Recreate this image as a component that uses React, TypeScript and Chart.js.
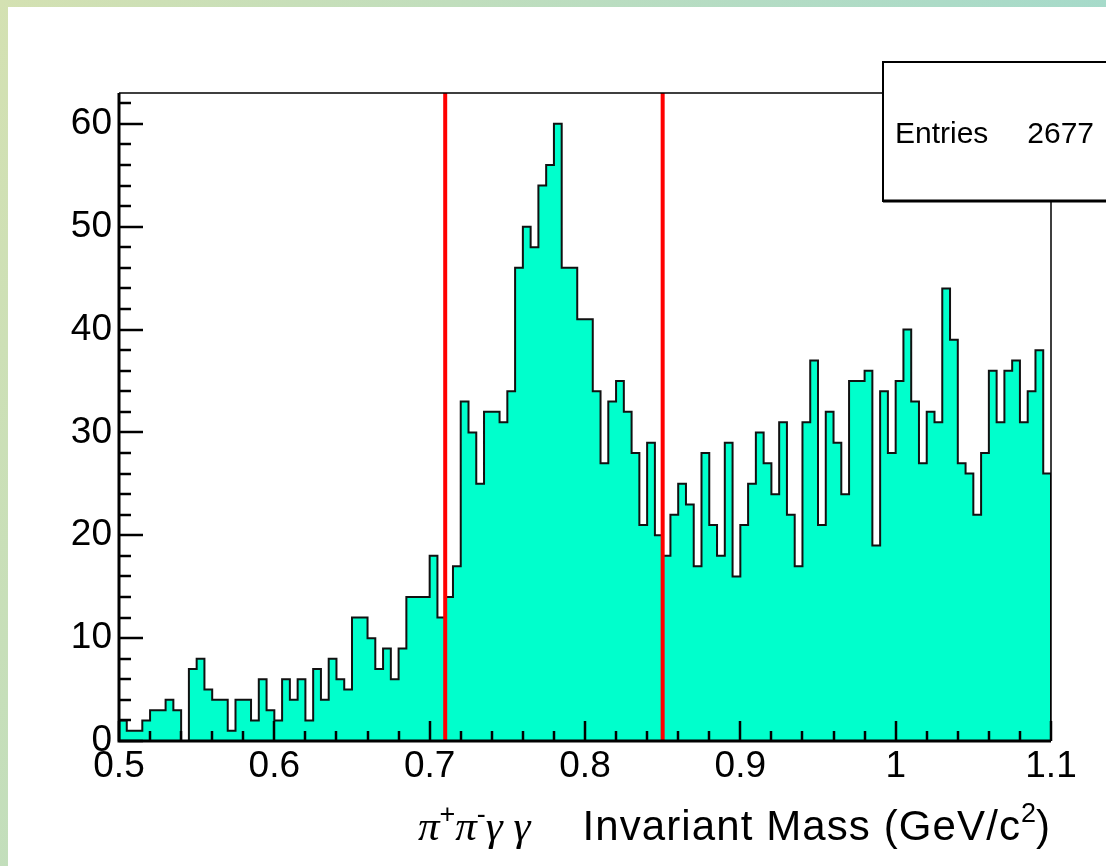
import React, { useEffect, useRef } from "react";
import { Chart, registerables } from "chart.js";

Chart.register(...registerables);

// ---- data ----
const BIN_LOW = 0.5;
const BIN_WIDTH = 0.005;
const counts = [
  2, 1, 1, 2, 3, 3, 4, 3, 0, 7,
  8, 5, 4, 4, 1, 4, 4, 2, 6, 3,
  2, 6, 4, 6, 2, 7, 4, 8, 6, 5,
  12, 12, 10, 7, 9, 6, 9, 14, 14, 14,
  18, 12, 14, 17, 33, 30, 25, 32, 32, 31,
  34, 46, 50, 48, 54, 56, 60, 46, 46, 41,
  41, 34, 27, 33, 35, 32, 28, 21, 29, 20,
  18, 22, 25, 23, 17, 28, 21, 18, 29, 16,
  21, 25, 30, 27, 24, 31, 22, 17, 31, 37,
  21, 32, 29, 24, 35, 35, 36, 19, 34, 28,
  35, 40, 33, 27, 32, 31, 44, 39, 27, 26,
  22, 28, 36, 31, 36, 37, 31, 34, 38, 26,
];
const cutLines = [0.71, 0.85];
const X_MIN = 0.5;
const X_MAX = 1.1;
const Y_MIN = 0;
const Y_MAX = 63;
const xTickValues = [0.5, 0.6, 0.7, 0.8, 0.9, 1.0, 1.1];
const xTickLabels = ["0.5", "0.6", "0.7", "0.8", "0.9", "1", "1.1"];
const yTickValues = [0, 10, 20, 30, 40, 50, 60];
const yTickLabels = ["0", "10", "20", "30", "40", "50", "60"];
const xMinorStep = 0.02;
const yMinorStep = 2;
const statsLabel = "Entries";
const statsValue = "2677";

const SANS = '"Liberation Sans", Arial, Helvetica, sans-serif';
const SERIF = '"Liberation Serif", "Times New Roman", serif';

// histogram outline points (left bin edges, stepped)
const histPoints: { x: number; y: number }[] = [{ x: BIN_LOW, y: 0 }];
counts.forEach((c, i) => histPoints.push({ x: BIN_LOW + i * BIN_WIDTH, y: c }));
histPoints.push({ x: BIN_LOW + counts.length * BIN_WIDTH, y: counts[counts.length - 1] });
histPoints.push({ x: BIN_LOW + counts.length * BIN_WIDTH, y: 0 });

type Piece = { t: string; f: string; dy: number; ls?: string };

function drawPieces(ctx: any, pieces: Piece[], startX: number, base: number) {
  let cx = startX;
  pieces.forEach((p) => {
    ctx.font = p.f;
    ctx.letterSpacing = p.ls || "0px";
    ctx.fillText(p.t, cx, base + p.dy);
    cx += ctx.measureText(p.t).width;
  });
  ctx.letterSpacing = "0px";
}
function measurePieces(ctx: any, pieces: Piece[]) {
  let w = 0;
  pieces.forEach((p) => {
    ctx.font = p.f;
    ctx.letterSpacing = p.ls || "0px";
    w += ctx.measureText(p.t).width;
  });
  ctx.letterSpacing = "0px";
  return w;
}

const decorPlugin = {
  id: "rootDecor",
  afterDatasetsDraw(chart: any) {
    const { ctx, chartArea: a, scales } = chart;
    const x = scales.x;
    const y = scales.y;
    ctx.save();
    ctx.strokeStyle = "#000";
    ctx.lineCap = "butt";
    ctx.lineWidth = 2.5;
    const nx = Math.round((X_MAX - X_MIN) / xMinorStep);
    for (let k = 0; k <= nx; k++) {
      const v = X_MIN + k * xMinorStep;
      const px = Math.round(x.getPixelForValue(v));
      const len = k % 5 === 0 ? 20 : 10;
      ctx.beginPath();
      ctx.moveTo(px, a.bottom);
      ctx.lineTo(px, a.bottom - len);
      ctx.stroke();
    }
    const ny = Math.floor((Y_MAX - Y_MIN) / yMinorStep);
    for (let k = 0; k <= ny; k++) {
      const v = Y_MIN + k * yMinorStep;
      const py = Math.round(y.getPixelForValue(v));
      const len = k % 5 === 0 ? 24 : 12;
      ctx.beginPath();
      ctx.moveTo(a.left, py);
      ctx.lineTo(a.left + len, py);
      ctx.stroke();
    }
    ctx.lineWidth = 1.5;
    ctx.beginPath();
    ctx.moveTo(a.left, a.top);
    ctx.lineTo(a.right, a.top);
    ctx.lineTo(a.right, a.bottom);
    ctx.stroke();
    ctx.lineWidth = 3;
    ctx.beginPath();
    ctx.moveTo(a.left, a.top);
    ctx.lineTo(a.left, a.bottom);
    ctx.lineTo(a.right, a.bottom);
    ctx.stroke();
    ctx.restore();
  },
  afterDraw(chart: any) {
    const { ctx, chartArea: a } = chart;
    ctx.save();
    // stats box
    const bx = 883, by = 62, bw = 240, bh = 139;
    ctx.fillStyle = "#fff";
    ctx.fillRect(bx, by, bw, bh);
    ctx.strokeStyle = "#000";
    ctx.lineWidth = 2;
    ctx.strokeRect(bx, by, bw, bh);
    ctx.lineWidth = 3;
    ctx.beginPath();
    ctx.moveTo(bx, by + bh);
    ctx.lineTo(bx + bw, by + bh);
    ctx.stroke();
    ctx.fillStyle = "#000";
    ctx.font = `30px ${SANS}`;
    ctx.textBaseline = "alphabetic";
    ctx.textAlign = "left";
    ctx.fillText(statsLabel, 895, 143);
    ctx.textAlign = "right";
    ctx.fillText(statsValue, 1094, 143);

    // x-axis title
    ctx.textAlign = "left";
    const base = 840;
    const sym = `italic 43px ${SERIF}`;
    const sup = `27px ${SANS}`;
    const main = `42px ${SANS}`;
    const symbols: Piece[] = [
      { t: "\u03C0", f: sym, dy: 0 },
      { t: "+", f: sup, dy: -17 },
      { t: "\u03C0", f: sym, dy: 0 },
      { t: "-", f: sup, dy: -17 },
      { t: "\u03B3", f: sym, dy: 0 },
      { t: " ", f: sym, dy: 0 },
      { t: "\u03B3", f: sym, dy: 0 },
    ];
    const words: Piece[] = [
      { t: "Invariant Mass (GeV/c", f: main, dy: 0, ls: "1.1px" },
      { t: "2", f: sup, dy: -18 },
      { t: ")", f: main, dy: 0 },
    ];
    const wWords = measurePieces(ctx, words);
    const wordsX = a.right - 1 - wWords;
    const wSym = measurePieces(ctx, symbols);
    drawPieces(ctx, symbols, wordsX - 52 - wSym, base);
    drawPieces(ctx, words, wordsX, base);
    ctx.restore();
  },
};

export default function App() {
  const ref = useRef<HTMLCanvasElement>(null);
  useEffect(() => {
    const canvas = ref.current;
    if (!canvas) return;
    Chart.defaults.font.family = SANS;
    const chart = new Chart(canvas, {
      type: "line",
      data: {
        datasets: [
          ...cutLines.map((v) => ({
            data: [
              { x: v, y: Y_MIN },
              { x: v, y: Y_MAX },
            ],
            borderColor: "#ff0000",
            borderWidth: 4,
            pointRadius: 0,
            fill: false,
          })),
          {
            data: histPoints,
            stepped: true,
            borderColor: "#111",
            borderWidth: 2,
            backgroundColor: "#00ffcc",
            fill: "origin",
            pointRadius: 0,
          },
        ],
      } as any,
      options: {
        animation: false,
        responsive: false,
        devicePixelRatio: 1,
        layout: { padding: { left: 0, top: 93, right: 55, bottom: 0 } },
        plugins: { legend: { display: false }, tooltip: { enabled: false }, title: { display: false } },
        scales: {
          x: {
            type: "linear",
            min: X_MIN,
            max: X_MAX,
            grid: { display: false, drawTicks: false },
            border: { display: false },
            ticks: {
              color: "#000",
              font: { size: 37, family: SANS },
              padding: 4,
              maxRotation: 0,
              autoSkip: false,
              includeBounds: false,
              callback: (_v: any, i: number) => xTickLabels[i],
            },
            afterBuildTicks: (s: any) => {
              s.ticks = xTickValues.map((v) => ({ value: v }));
            },
            afterFit: (s: any) => {
              s.height = 125;
            },
          },
          y: {
            type: "linear",
            min: Y_MIN,
            max: Y_MAX,
            grid: { display: false, drawTicks: false },
            border: { display: false },
            ticks: {
              color: "#000",
              font: { size: 37, family: SANS },
              padding: 7,
              autoSkip: false,
              includeBounds: false,
              callback: (_v: any, i: number) => yTickLabels[i],
            },
            afterBuildTicks: (s: any) => {
              s.ticks = yTickValues.map((v) => ({ value: v }));
            },
            afterFit: (s: any) => {
              s.width = 119;
            },
          },
        },
      } as any,
      plugins: [decorPlugin],
    });
    return () => chart.destroy();
  }, []);

  return (
    <div
      style={{
        position: "fixed",
        left: 0,
        top: 0,
        width: 1106,
        height: 866,
        overflow: "hidden",
        background: "linear-gradient(115deg, #d4e1b2 0%, #b4dcc4 50%, #96d8d0 100%)",
      }}
    >
      <div style={{ position: "absolute", left: 8, top: 7, right: 0, bottom: 0, background: "#fff" }} />
      <canvas
        ref={ref}
        width={1106}
        height={866}
        style={{ position: "absolute", left: 0, top: 0, width: 1106, height: 866 }}
      />
    </div>
  );
}
